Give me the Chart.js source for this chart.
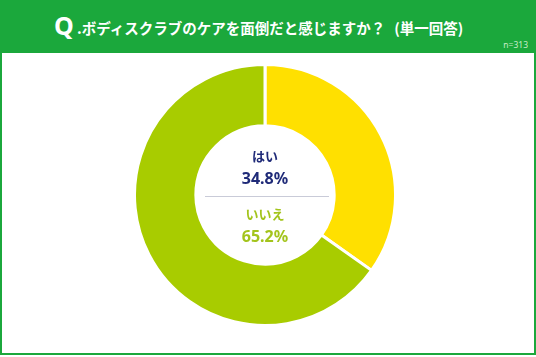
<!DOCTYPE html>
<html><head><meta charset="utf-8">
<script src="https://cdn.jsdelivr.net/npm/chart.js@4"></script>
<style>
html,body{margin:0;padding:0;}
body{width:536px;height:357px;position:relative;overflow:hidden;background:#fff;font-family:"Noto Sans CJK JP","Noto Sans",sans-serif;}
#frame{position:absolute;left:0;top:0;width:532px;height:353px;border:2px solid #1ba83c;border-top:none;}
#header{position:absolute;left:0;top:0;width:536px;height:53px;background:#1ba83c;}
#title{position:absolute;left:54px;top:10px;color:#fff;font-weight:bold;font-size:14.5px;line-height:30px;white-space:nowrap;}
#title .q{font-size:25px;font-family:"Noto Sans","DejaVu Sans",sans-serif;vertical-align:-1px;}
#title .gap{display:inline-block;width:9px;}
#n{position:absolute;right:8px;top:39px;color:#c8ecc8;font-size:8.5px;font-family:"Noto Sans",sans-serif;}
#wrap{position:absolute;left:133px;top:63px;width:264px;height:264px;}
.ct{position:absolute;font-weight:bold;text-align:center;width:120px;left:205px;}
#sep{position:absolute;left:205px;top:196px;width:124px;height:1px;background:#c9cbd8;}
</style></head><body>
<div id="frame"></div>
<div id="header"><div id="title"><span class="q">Q</span> .ボディスクラブのケアを面倒だと感じますか？<span class="gap"></span>(単一回答)</div><div id="n">n=313</div></div>
<div id="wrap"><canvas id="c"></canvas></div>
<div class="ct" id="l1" style="top:146px;font-size:13px;color:#1f2a78;"></div>
<div class="ct" id="v1" style="top:167px;font-size:16px;color:#1f2a78;font-family:'Noto Sans',sans-serif;"></div>
<div id="sep"></div>
<div class="ct" id="l2" style="top:204px;font-size:13px;color:#a3c41c;"></div>
<div class="ct" id="v2" style="top:225px;font-size:16px;color:#a3c41c;font-family:'Noto Sans',sans-serif;"></div>
<script>
const categories = ["はい", "いいえ"];
const values = [34.8, 65.2];
const colors = ["#ffe000", "#a8cc00"];

document.getElementById('l1').textContent = categories[0];
document.getElementById('v1').textContent = values[0].toFixed(1) + "%";
document.getElementById('l2').textContent = categories[1];
document.getElementById('v2').textContent = values[1].toFixed(1) + "%";

new Chart(document.getElementById('c'), {
  type: 'doughnut',
  data: { labels: categories, datasets: [{ data: values, backgroundColor: colors, borderColor: '#ffffff', borderWidth: 3 }] },
  options: {
    responsive: true, maintainAspectRatio: false, animation: false,
    cutout: '53%',
    layout: { padding: 0 },
    plugins: { legend: { display: false }, tooltip: { enabled: false } }
  }
});
</script>
</body></html>
